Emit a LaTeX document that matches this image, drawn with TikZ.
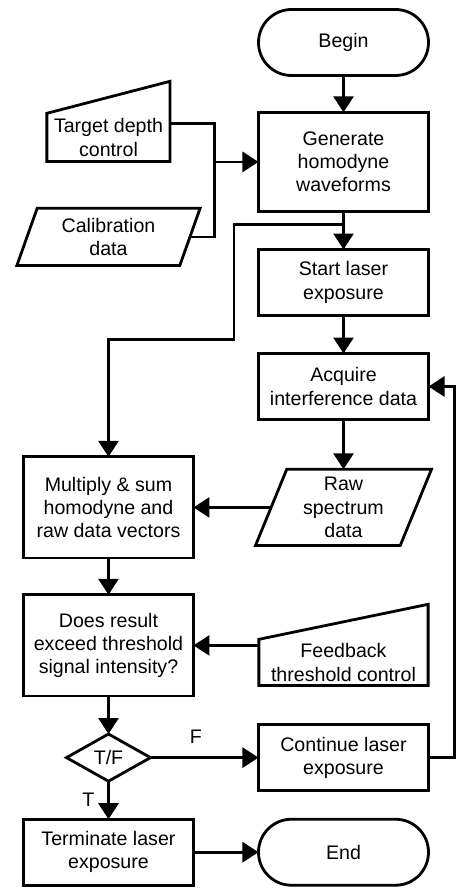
\documentclass[tikz,border=0pt]{standalone}
\usepackage{fontspec}
\setmainfont{Liberation Sans}
\usetikzlibrary{arrows.meta,positioning,shapes.geometric}

\begin{document}
\begin{tikzpicture}[node distance=19pt, font=\fontsize{9.8}{11.6}\selectfont,
        box/.style={rectangle,draw,line width=1.4pt,minimum width=85pt,minimum height=33pt,
          align=center,inner sep=1pt,outer sep=0pt},
        pill/.style={box,rounded corners=16.5pt},
        io/.style={trapezium,trapezium left angle=64,trapezium right angle=116,draw,
          line width=1.4pt,align=center,inner sep=1pt,outer sep=0pt,trapezium stretches body},
        manual/.style={rectangle,align=center,inner sep=1pt,outer sep=0pt},
        decide/.style={diamond,draw,line width=1.4pt,minimum width=42pt,minimum height=23.6pt,
          inner sep=0pt,outer sep=0pt},
        arrow/.style={-{Triangle[length=8pt,width=10pt]},line width=1.4pt}]
        \useasboundingbox (-171.75pt,21.25pt) rectangle (57.25pt,-422.75pt);
        \node[pill] (begin) at (0,0) {Begin};
        \node[box,minimum height=49.6pt,below=18.4pt of begin] (gen) {Generate\\homodyne\\waveforms};
        \node[box,below=of gen] (start) {Start laser\\exposure};
        \node[box,below=of start] (acq) {Acquire\\interference data};
        \node[io,minimum width=88pt,minimum height=38.1pt,below=24.9pt of acq] (raw) {Raw\\spectrum\\data};
        \node[box,minimum height=50.6pt] (mult) at ([xshift=-117.5pt]raw.center) {Multiply \& sum\\homodyne and\\raw data vectors};
        \node[box,minimum height=50.6pt,below=18.4pt of mult] (does) {Does result\\exceed threshold\\signal intensity?};
        \node[decide,below=of does] (tf) {T/F};
        \node[box,below=of tf] (term) {Terminate laser\\exposure};
        \node[box] (cont) at (tf -| gen) {Continue laser\\exposure};
        \node[pill] (end) at (term -| gen) {End};
        \node[manual,minimum width=84.6pt,minimum height=23.1pt,yshift=-8.5pt] (fb) at (does -| gen) {Feedback\\threshold control};
        \node[manual,minimum width=61.6pt,minimum height=24.1pt,yshift=12.25pt] (target) at (gen -| mult) {Target depth\\control};
        \node[io,minimum width=91.6pt,minimum height=28.6pt,yshift=-37.5pt] (calib) at (gen -| mult) {Calibration\\data};
        \foreach \n/\h in {target/16pt,fb/17.5pt}
          \draw[line width=1.4pt] (\n.south west) -- (\n.south east) -- ([yshift=\h]\n.north east)
            -- (\n.north west) -- cycle;
        \draw[arrow] (begin) -- (gen);
        \draw[line width=1.4pt] ([yshift=-5pt]target.north east) -- ++(22.3pt,0) coordinate (tee) |- (calib.east);
        \draw[arrow] (tee |- gen.west) -- (gen.west);
        \draw[arrow] (gen) -- (start);
        \draw[arrow] ([yshift=-6.3pt]gen.south) -- ++(-54.75pt,0) -- ++(0,-57.5pt) -| (mult.north);
        \draw[arrow] (start) -- (acq);
        \draw[arrow] (acq) -- (raw);
        \draw[arrow] (raw.west) -- (mult.east);
        \draw[arrow] (mult) -- (does);
        \draw[arrow] (fb.west |- does.east) -- (does.east);
        \draw[arrow] (does) -- (tf);
        \draw[arrow] (tf.east) -- node[pos=0.42,above=3pt] {F} (cont.west);
        \draw[arrow] (tf) -- node[left=3pt] {T} (term);
        \draw[arrow] (cont.east) -- ++(13pt,0) |- (acq.east);
        \draw[arrow] (term) -- (end);
      \end{tikzpicture}
\end{document}
